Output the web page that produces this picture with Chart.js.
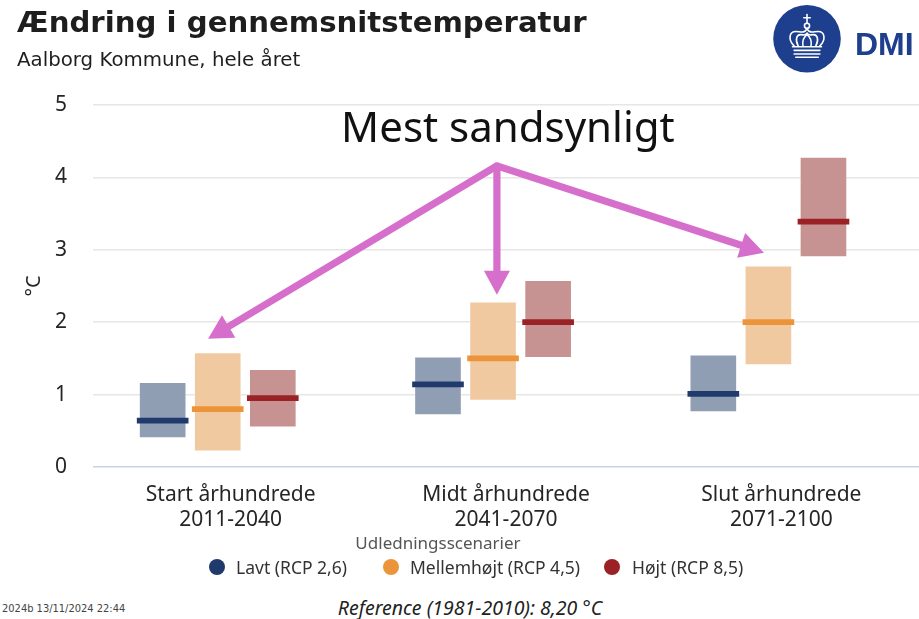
<!DOCTYPE html>
<html>
<head>
<meta charset="utf-8">
<script src="https://cdn.jsdelivr.net/npm/chart.js@4.4.1/dist/chart.umd.min.js"></script>
<style>
  html, body { margin: 0; padding: 0; background: #ffffff; }
  #wrap { position: relative; width: 919px; height: 619px; overflow: hidden; background: #fff; }
  #chartBox { position: absolute; left: 0; top: 0; width: 919px; height: 540px; }
  .abs { position: absolute; white-space: nowrap; }
  #title { left: 17px; top: 8px; font: bold 29.2px "DejaVu Sans", sans-serif; line-height: 29px; color: #1e1e1e; }
  #subtitle { left: 17px; top: 50px; font: 19.8px "DejaVu Sans", sans-serif; line-height: 20px; color: #1e1e1e; }
  #logo { left: 770px; top: 4px; }
  #dmi { left: 855px; top: 26px; font: bold 32px "Liberation Sans", Arial, sans-serif; line-height: 36px; color: #1d3f8e; }
  #legTitle { left: 0; width: 876px; top: 532px; text-align: center; font: 17px "Noto Sans", sans-serif; line-height: 22px; color: #555; }
  .legItem { top: 556px; font: 17.5px "Noto Sans", sans-serif; line-height: 22px; color: #333; }
  .dot { position: absolute; width: 16px; height: 16px; border-radius: 50%; top: 559px; }
  #stamp { left: 2px; top: 603px; font: 11px "DejaVu Sans Condensed", "DejaVu Sans", sans-serif; line-height: 12px; color: #444; }
  #ref { left: 0; width: 940px; top: 597px; text-align: center; font: italic 19.5px "Noto Sans", sans-serif; line-height: 22px; color: #222; }
</style>
</head>
<body>
<div id="wrap">
  <div id="chartBox"><canvas id="c" width="919" height="540"></canvas></div>
  <div class="abs" id="title">Ændring i gennemsnitstemperatur</div>
  <div class="abs" id="subtitle">Aalborg Kommune, hele året</div>
  <svg class="abs" id="logo" width="74" height="71" viewBox="0 0 92 88">
    <circle cx="46" cy="43" r="42" fill="#1d3f8e"/>
    <g fill="none" stroke="#fff" stroke-width="2" stroke-linecap="round" stroke-linejoin="round">
      <line x1="46" y1="13" x2="46" y2="23"/>
      <line x1="42" y1="17" x2="50" y2="17"/>
      <circle cx="46" cy="27" r="3.2"/>
      <path d="M30 52 C22 44 24 34 32 34 C38 34 42 37 46 31 C50 37 54 34 60 34 C68 34 70 44 62 52"/>
      <path d="M35 52 C31 44 33 38 38 38 C42 38 44 40 46 36 C48 40 50 38 54 38 C59 38 61 44 57 52"/>
      <path d="M41 52 C40 46 42 41 46 38 C50 41 52 46 51 52"/>
      <line x1="28" y1="53" x2="64" y2="53"/>
      <line x1="30" y1="57.5" x2="62" y2="57.5"/>
      <line x1="30" y1="62" x2="62" y2="62"/>
      <line x1="32" y1="66" x2="60" y2="66"/>
    </g>
  </svg>
  <div class="abs" id="dmi">DMI</div>
  <div class="abs" id="legTitle">Udledningsscenarier</div>
  <div id="legend"></div>
  <div class="abs" id="stamp">2024b 13/11/2024 22:44</div>
  <div class="abs" id="ref">Reference (1981-2010): 8,20 °C</div>
</div>
<script>
// ---- Data ----
const CATEGORIES = ['Start århundrede', 'Midt århundrede', 'Slut århundrede'];
const PERIODS = ['2011-2040', '2041-2070', '2071-2100'];
const Y_TICKS = [0, 1, 2, 3, 4, 5];
const SERIES_NAMES = ['Lavt (RCP 2,6)', 'Mellemhøjt (RCP 4,5)', 'Højt (RCP 8,5)'];

const LAVT_LOW = [0.40, 0.72, 0.76];
const LAVT_HIGH = [1.17, 1.52, 1.55];
const LAVT_MID = [0.64, 1.14, 1.01];

const MELLEM_LOW = [0.22, 0.92, 1.41];
const MELLEM_HIGH = [1.58, 2.28, 2.78];
const MELLEM_MID = [0.80, 1.50, 2.00];

const HOJT_LOW = [0.55, 1.51, 2.90];
const HOJT_HIGH = [1.35, 2.58, 4.28];
const HOJT_MID = [0.95, 2.00, 3.39];

const ANNOTATION_TEXT = 'Mest sandsynligt';

// ---- Styles / layout ----
const BOX_COLORS = ['#909eb4', '#f0c9a0', '#c69392'];
const MID_COLORS = ['#1f3a6b', '#ec9439', '#9a2125'];
const SERIES_SHIFT = [-0.247, -0.047, 0.153];   // position of each scenario inside a group (axis units)
const MID_HALF = 0.035;                          // half thickness of the median marker (°C)
const ARROW_COLOR = '#d66fcc';
const ARROW_FROM = { x: 0.967, y: 4.16 };
const ARROW_TO = [{ x: -0.082, y: 1.77 }, { x: 0.967, y: 2.38 }, { x: 1.937, y: 2.96 }];
const TEXT_AT = { x: 1.007, y: 4.66 };

const series = [
  { low: LAVT_LOW, high: LAVT_HIGH, mid: LAVT_MID },
  { low: MELLEM_LOW, high: MELLEM_HIGH, mid: MELLEM_MID },
  { low: HOJT_LOW, high: HOJT_HIGH, mid: HOJT_MID }
];

const datasets = [];
series.forEach((s, si) => {
  datasets.push({
    label: SERIES_NAMES[si] + ' interval',
    data: CATEGORIES.map((c, i) => ({ x: i + SERIES_SHIFT[si], y: [s.low[i], s.high[i]] })),
    backgroundColor: BOX_COLORS[si],
    borderColor: 'rgba(255,255,255,0.35)',
    borderWidth: 1,
    borderSkipped: false,
    barThickness: 47,
    grouped: false,
    order: 2
  });
});
series.forEach((s, si) => {
  datasets.push({
    label: SERIES_NAMES[si],
    data: CATEGORIES.map((c, i) => ({ x: i + SERIES_SHIFT[si], y: [s.mid[i] - MID_HALF, s.mid[i] + MID_HALF] })),
    backgroundColor: MID_COLORS[si],
    borderWidth: 0,
    barThickness: 51,
    grouped: false,
    order: 1
  });
});

// HTML legend
const LEG_X = [[209, 236], [383, 410], [604, 632]];
const legend = document.getElementById('legend');
SERIES_NAMES.forEach((n, i) => {
  const d = document.createElement('div');
  d.className = 'dot';
  d.style.left = LEG_X[i][0] + 'px';
  d.style.background = MID_COLORS[i];
  legend.appendChild(d);
  const t = document.createElement('div');
  t.className = 'abs legItem';
  t.style.left = LEG_X[i][1] + 'px';
  t.textContent = n;
  legend.appendChild(t);
});

const arrowPlugin = {
  id: 'arrows',
  afterDatasetsDraw(chart) {
    const { ctx, scales: { x, y } } = chart;
    const fx = x.getPixelForValue(ARROW_FROM.x), fy = y.getPixelForValue(ARROW_FROM.y);
    ctx.save();
    ctx.fillStyle = ARROW_COLOR;
    ARROW_TO.forEach(t => {
      const tx = x.getPixelForValue(t.x), ty = y.getPixelForValue(t.y);
      const dx = tx - fx, dy = ty - fy, L = Math.hypot(dx, dy);
      const ux = dx / L, uy = dy / L, px = -uy, py = ux;
      const headLen = 24, headHalf = 13, shaftHalf = 3.6;
      const bx = tx - ux * headLen, by = ty - uy * headLen;
      ctx.beginPath();
      ctx.moveTo(fx + px * shaftHalf, fy + py * shaftHalf);
      ctx.lineTo(bx + px * shaftHalf, by + py * shaftHalf);
      ctx.lineTo(bx + px * headHalf, by + py * headHalf);
      ctx.lineTo(tx, ty);
      ctx.lineTo(bx - px * headHalf, by - py * headHalf);
      ctx.lineTo(bx - px * shaftHalf, by - py * shaftHalf);
      ctx.lineTo(fx - px * shaftHalf, fy - py * shaftHalf);
      ctx.closePath();
      ctx.fill();
    });
    ctx.beginPath();
    ctx.arc(fx, fy, 3.6, 0, Math.PI * 2);
    ctx.fill();
    ctx.fillStyle = '#111';
    ctx.font = '42px "Noto Sans", sans-serif';
    ctx.textAlign = 'center';
    ctx.textBaseline = 'middle';
    ctx.fillText(ANNOTATION_TEXT, x.getPixelForValue(TEXT_AT.x), y.getPixelForValue(TEXT_AT.y));
    ctx.restore();
  }
};

new Chart(document.getElementById('c'), {
  type: 'bar',
  data: { datasets },
  plugins: [arrowPlugin],
  options: {
    responsive: false,
    animation: false,
    events: [],
    layout: { padding: { top: 105, left: 0, right: 0, bottom: 0 } },
    plugins: { legend: { display: false }, tooltip: { enabled: false }, title: { display: false } },
    scales: {
      x: {
        type: 'linear',
        offset: false,
        min: -0.5,
        max: 2.5,
        afterBuildTicks: s => { s.ticks = CATEGORIES.map((c, i) => ({ value: i })); },
        afterFit: s => { s.height = 73; },
        grid: { display: false, offset: false },
        border: { display: false },
        ticks: {
          padding: 8,
          color: '#252525',
          font: { family: '"Noto Sans", sans-serif', size: 21, lineHeight: 1.18 },
          maxRotation: 0,
          autoSkip: false,
          callback: v => [CATEGORIES[Math.round(v)], PERIODS[Math.round(v)]]
        }
      },
      y: {
        min: 0,
        max: 5,
        afterBuildTicks: s => { s.ticks = Y_TICKS.map(v => ({ value: v })); },
        afterFit: s => { s.width = 93; },
        border: { display: false },
        grid: {
          drawTicks: false,
          color: ctx => (ctx.tick && ctx.tick.value === 0) ? '#c8d4ea' : '#e6e6e6',
          lineWidth: 1.6
        },
        ticks: {
          padding: 26,
          color: '#252525',
          font: { family: '"Noto Sans", sans-serif', size: 21 }
        },
        title: {
          display: true,
          text: '°C',
          color: '#252525',
          font: { family: '"Noto Sans", sans-serif', size: 20 },
          padding: { top: 22, bottom: 0 }
        }
      }
    }
  }
});
</script>
</body>
</html>
